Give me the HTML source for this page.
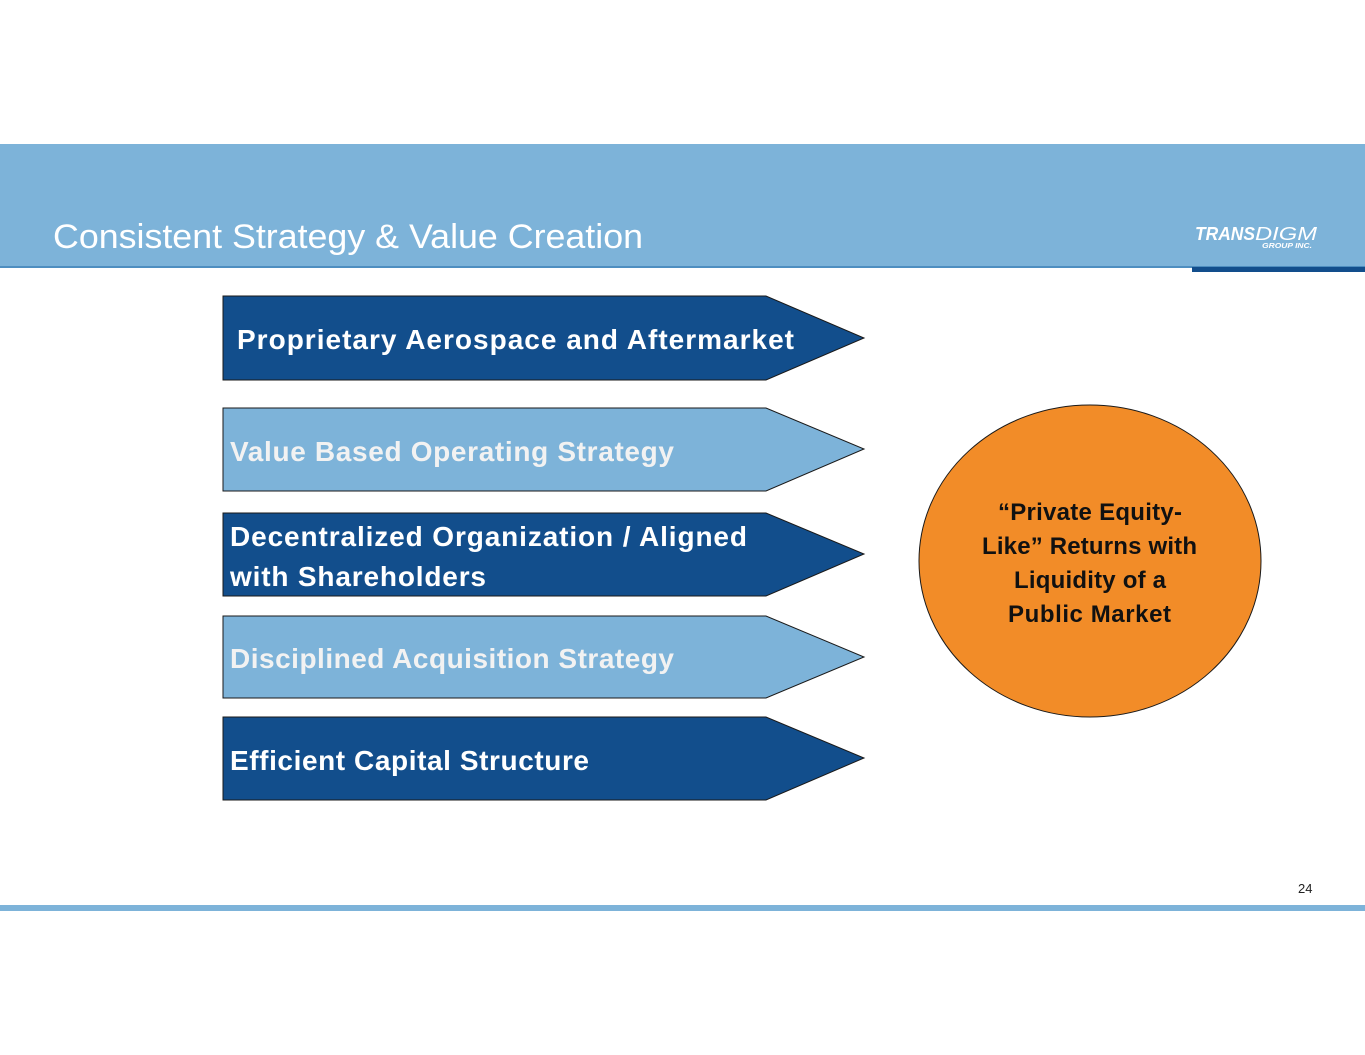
<!DOCTYPE html>
<html><head><meta charset="utf-8"><style>html,body{margin:0;padding:0;background:#fff}svg{display:block}</style></head>
<body>
<svg width="1365" height="1055" viewBox="0 0 1365 1055" xmlns="http://www.w3.org/2000/svg" font-family="Liberation Sans, sans-serif">
<rect x="0" y="144" width="1365" height="124" fill="#7DB3D9"/>
<rect x="0" y="266" width="1365" height="2" fill="#4E8EC0"/>
<rect x="1192" y="267" width="173" height="5" fill="#124E8C"/>
<text x="53" y="248" font-size="34" fill="#fff" textLength="590" lengthAdjust="spacingAndGlyphs">Consistent Strategy &amp; Value Creation</text>
<text x="1195" y="240" font-size="18" font-weight="bold" font-style="italic" fill="#fff" textLength="60" lengthAdjust="spacingAndGlyphs">TRANS</text>
<text x="1255" y="240" font-size="18" font-style="italic" fill="#fff" textLength="62" lengthAdjust="spacingAndGlyphs">DIGM</text>
<text x="1262" y="248" font-size="7" font-weight="bold" font-style="italic" fill="#fff" textLength="50" lengthAdjust="spacingAndGlyphs">GROUP INC.</text>
<g stroke="#1a1a1a" stroke-width="1">
<polygon points="223,296 766,296 864,338 766,380 223,380" fill="#124E8C"/>
<polygon points="223,408 766,408 864,449 766,491 223,491" fill="#7DB3D9"/>
<polygon points="223,513 766,513 864,554 766,596 223,596" fill="#124E8C"/>
<polygon points="223,616 766,616 864,657 766,698 223,698" fill="#7DB3D9"/>
<polygon points="223,717 766,717 864,758 766,800 223,800" fill="#124E8C"/>
<ellipse cx="1090" cy="561" rx="171" ry="156" fill="#F28C28"/>
</g>
<g font-size="28" font-weight="bold" lengthAdjust="spacingAndGlyphs">
<text x="237" y="349" fill="#fff" textLength="557">Proprietary Aerospace and Aftermarket</text>
<text x="230" y="461" fill="#F2F2F2" textLength="444">Value Based Operating Strategy</text>
<text x="230" y="546" fill="#fff" textLength="517">Decentralized Organization / Aligned</text>
<text x="230" y="586" fill="#fff" textLength="256">with Shareholders</text>
<text x="230" y="668" fill="#F2F2F2" textLength="444">Disciplined Acquisition Strategy</text>
<text x="230" y="770" fill="#fff" textLength="359">Efficient Capital Structure</text>
</g>
<g font-size="24" font-weight="bold" fill="#111" lengthAdjust="spacingAndGlyphs">
<text x="998" y="520" textLength="184">“Private Equity-</text>
<text x="982" y="554" textLength="215">Like” Returns with</text>
<text x="1014" y="588" textLength="152">Liquidity of a</text>
<text x="1008" y="622" textLength="163">Public Market</text>
</g>
<text x="1298" y="893" font-size="13" fill="#222">24</text>
<rect x="0" y="905" width="1365" height="6" fill="#7DB3D9"/>
</svg>
</body></html>
